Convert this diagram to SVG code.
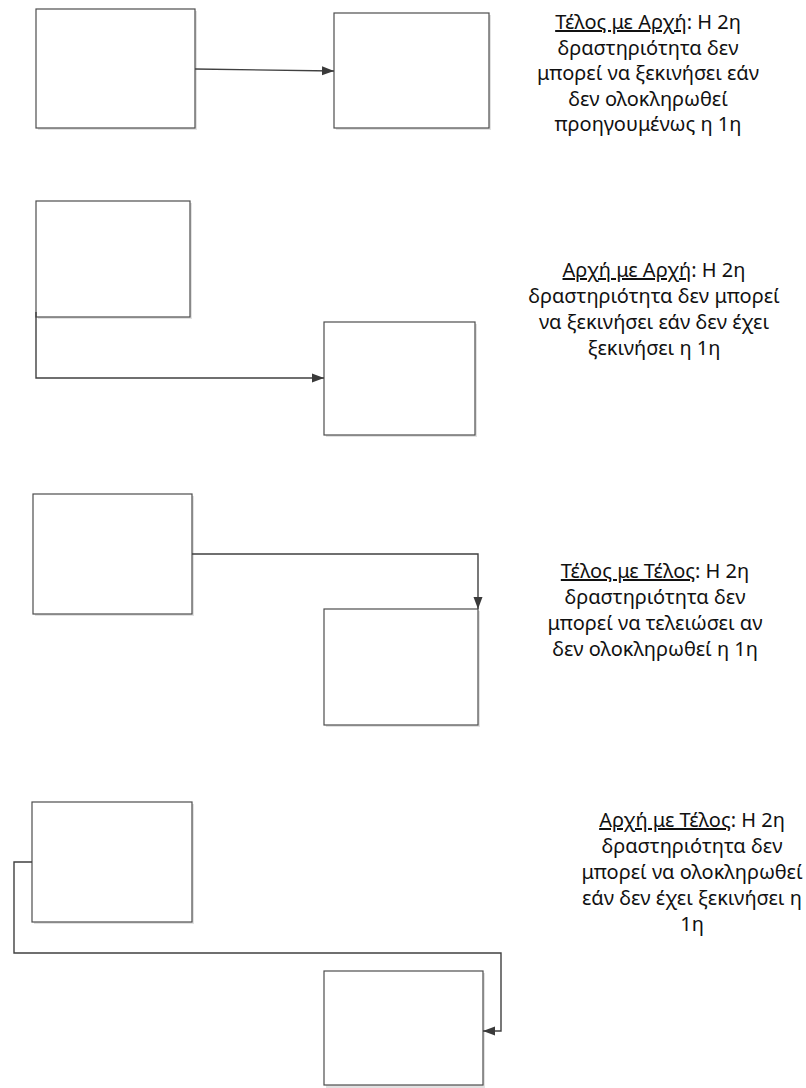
<svg xmlns="http://www.w3.org/2000/svg" width="806" height="1088" viewBox="0 0 806 1088">
<style>
.box{fill:#fff;stroke:#4d4d4d;stroke-width:1.2}
.sh{fill:#e2e2e2}
.cn{fill:none;stroke:#404040;stroke-width:1.4}
.t{font-family:"Noto Sans","Open Sans","DejaVu Sans",sans-serif;font-size:20px;fill:#111;text-anchor:middle}
.u{text-decoration:underline}
</style>
<defs>
<marker id="ah" viewBox="0 0 12 10" refX="12" refY="5" markerWidth="12" markerHeight="10" markerUnits="userSpaceOnUse" orient="auto">
<path d="M0,0.5 L12,5 L0,9.5 Z" fill="#3a3a3a"/>
</marker>
</defs>
<rect width="806" height="1088" fill="#fff"/>
<g id="n1"><rect class="sh" x="38" y="11" width="159" height="119"/><rect class="box" x="36" y="9" width="159" height="119"/></g>
<g id="n2"><rect class="sh" x="336" y="15" width="155" height="115"/><rect class="box" x="334" y="13" width="155" height="115"/></g>
<g id="n3"><rect class="sh" x="38" y="203" width="154" height="116"/><rect class="box" x="36" y="201" width="154" height="116"/></g>
<g id="n4"><rect class="sh" x="326" y="324" width="151" height="113"/><rect class="box" x="324" y="322" width="151" height="113"/></g>
<g id="n5"><rect class="sh" x="35" y="496" width="159" height="120"/><rect class="box" x="33" y="494" width="159" height="120"/></g>
<g id="n6"><rect class="sh" x="326" y="611" width="154" height="116"/><rect class="box" x="324" y="609" width="154" height="116"/></g>
<g id="n7"><rect class="sh" x="34" y="804" width="160" height="120"/><rect class="box" x="32" y="802" width="160" height="120"/></g>
<g id="n8"><rect class="sh" x="326" y="973" width="159" height="115"/><rect class="box" x="324" y="971" width="159" height="114"/></g>
<g id="connectors">
<path class="cn" d="M195,69 L334,71" marker-end="url(#ah)"/>
<path class="cn" d="M36,312 V378 H324" marker-end="url(#ah)"/>
<path class="cn" d="M192,554 H478 V609" marker-end="url(#ah)"/>
<path class="cn" d="M32,862 H14 V953 H501 V1031 H483" marker-end="url(#ah)"/>
</g>
<g id="label1" class="t">
<text x="648" y="29"><tspan class="u">Τέλος με Αρχή</tspan>: Η 2η</text>
<text x="648" y="55">δραστηριότητα δεν</text>
<text x="648" y="80">μπορεί να ξεκινήσει εάν</text>
<text x="648" y="106">δεν ολοκληρωθεί</text>
<text x="648" y="131">προηγουμένως η 1η</text>
</g>
<g id="label2" class="t">
<text x="654" y="277"><tspan class="u">Αρχή με Αρχή</tspan>: Η 2η</text>
<text x="654" y="303">δραστηριότητα δεν μπορεί</text>
<text x="654" y="329">να ξεκινήσει εάν δεν έχει</text>
<text x="654" y="355">ξεκινήσει η 1η</text>
</g>
<g id="label3" class="t">
<text x="655" y="578"><tspan class="u">Τέλος με Τέλος</tspan>: Η 2η</text>
<text x="655" y="604">δραστηριότητα δεν</text>
<text x="655" y="630">μπορεί να τελειώσει αν</text>
<text x="655" y="656">δεν ολοκληρωθεί η 1η</text>
</g>
<g id="label4" class="t">
<text x="692" y="827"><tspan class="u">Αρχή με Τέλος</tspan>: Η 2η</text>
<text x="692" y="853">δραστηριότητα δεν</text>
<text x="692" y="879">μπορεί να ολοκληρωθεί</text>
<text x="692" y="905">εάν δεν έχει ξεκινήσει η</text>
<text x="692" y="931">1η</text>
</g>
</svg>
